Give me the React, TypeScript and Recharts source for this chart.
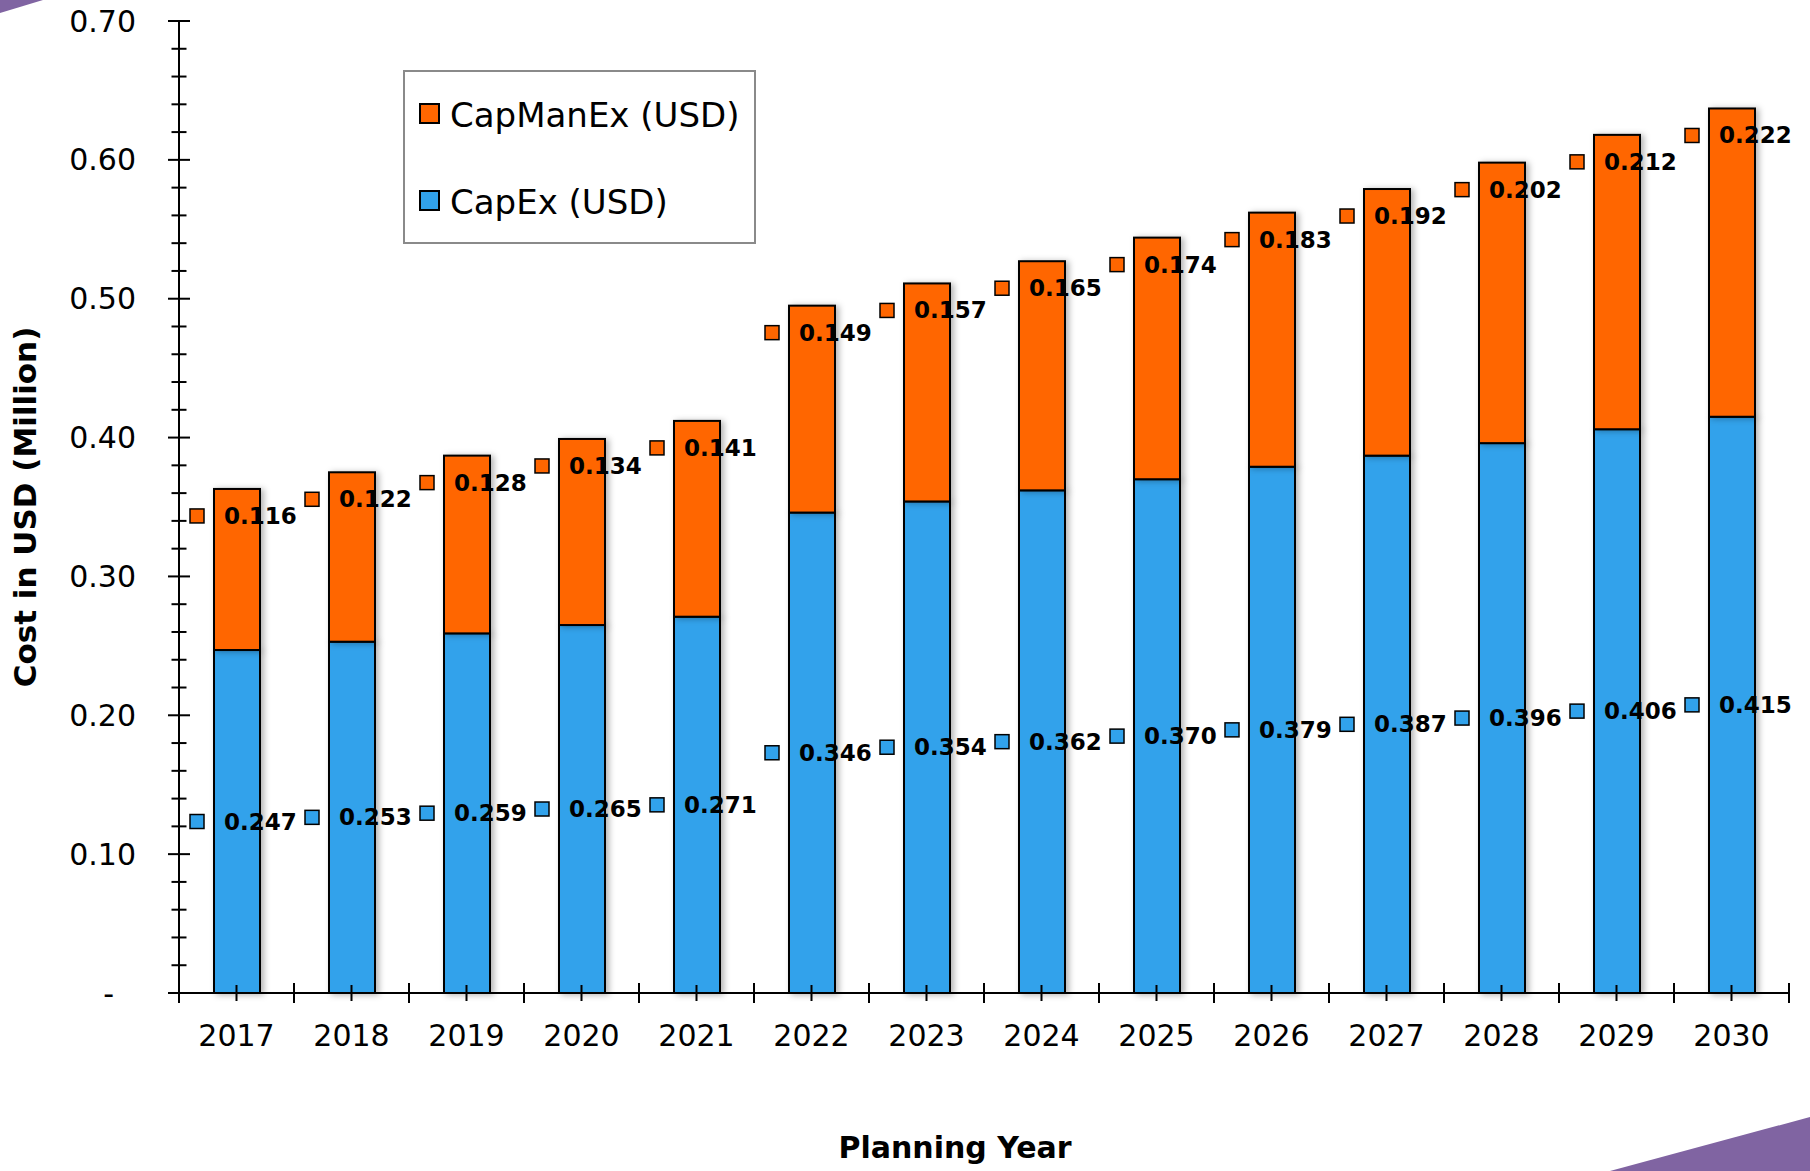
import React from 'react';
import { ComposedChart, Bar, XAxis, YAxis, Legend, LabelList } from 'recharts';

const years = ['2017', '2018', '2019', '2020', '2021', '2022', '2023', '2024', '2025', '2026', '2027', '2028', '2029', '2030'];
const capex = [0.247, 0.253, 0.259, 0.265, 0.271, 0.346, 0.354, 0.362, 0.370, 0.379, 0.387, 0.396, 0.406, 0.415];
const capmanex = [0.116, 0.122, 0.128, 0.134, 0.141, 0.149, 0.157, 0.165, 0.174, 0.183, 0.192, 0.202, 0.212, 0.222];
const yTicks = [0, 0.02, 0.04, 0.06, 0.08, 0.1, 0.12, 0.14, 0.16, 0.18, 0.2, 0.22, 0.24, 0.26, 0.28, 0.3, 0.32, 0.34, 0.36, 0.38, 0.4, 0.42, 0.44, 0.46, 0.48, 0.5, 0.52, 0.54, 0.56, 0.58, 0.6, 0.62, 0.64, 0.66, 0.68, 0.7];

const data = years.map((y, i) => ({ year: y, capex: capex[i], capmanex: capmanex[i] }));

const BLUE = '#31A2EB';
const ORANGE = '#FF6600';
const PURPLE = '#8064A2';
const FONT = '"DejaVu Sans", sans-serif';

const YTick = (props: any) => {
  const { x, y, payload } = props;
  const v = payload.value;
  const major = Math.abs(v * 10 - Math.round(v * 10)) < 1e-6;
  const len = major ? 11 : 7.5;
  return (
    <g>
      <line x1={x - len} x2={x + len} y1={y} y2={y} stroke="#000" strokeWidth={2} />
      {major && (
        v === 0 ? (
          <text x={x - 65} y={y} textAnchor="end" dominantBaseline="central" fontFamily={FONT} fontSize={30} fill="#000">-</text>
        ) : (
          <text x={x - 43} y={y} textAnchor="end" dominantBaseline="central" fontFamily={FONT} fontSize={30} fill="#000">{v.toFixed(2)}</text>
        )
      )}
    </g>
  );
};

const XTick = (props: any) => {
  const { x, y, payload, index, visibleTicksCount } = props;
  const half = typeof payload.offset === 'number' && payload.offset > 0 ? payload.offset : 57.5;
  const count = visibleTicksCount ?? years.length;
  return (
    <g>
      <line x1={x} x2={x} y1={y - 8} y2={y + 8} stroke="#000" strokeWidth={2} />
      <line x1={x - half} x2={x - half} y1={y - 10} y2={y + 10} stroke="#000" strokeWidth={2} />
      {index === count - 1 && <line x1={x + half} x2={x + half} y1={y - 10} y2={y + 10} stroke="#000" strokeWidth={2} />}
      <text x={x} y={y + 42} textAnchor="middle" dominantBaseline="central" fontFamily={FONT} fontSize={30} fill="#000">{payload.value}</text>
    </g>
  );
};

const makeLabel = (color: string, mode: 'center' | 'top') => (props: any) => {
  const vb = props.viewBox || {};
  const x = props.x ?? vb.x;
  const y = props.y ?? vb.y;
  const w = props.width ?? vb.width;
  const h = props.height ?? vb.height;
  const value = props.value;
  if (x == null || y == null) return null;
  const cx = x + w / 2;
  const ly = mode === 'center' ? y + h / 2 : y + 27;
  return (
    <g>
      <rect x={cx - 47} y={ly - 7} width={14} height={14} fill={color} stroke="#000" strokeWidth={1.5} />
      <text x={cx - 13} y={ly} dominantBaseline="central" fontFamily={FONT} fontWeight="bold" fontSize={23} fill="#000">{Number(value).toFixed(3)}</text>
    </g>
  );
};

const BarShape = (props: any) => {
  const { x, y, width, height, fill } = props;
  return <rect x={x} y={y} width={width} height={height} fill={fill} stroke="#000" strokeWidth={2} filter="url(#barShadow)" />;
};

const LegendBox = () => (
  <div style={{ position: 'relative', width: 353, height: 174, border: '2px solid #8a8a8a', boxSizing: 'border-box', background: '#fff' }}>
    {[{ name: 'CapManEx (USD)', color: ORANGE, cy: 43 }, { name: 'CapEx (USD)', color: BLUE, cy: 130 }].map((it) => (
      <div key={it.name}>
        <div style={{ position: 'absolute', left: 14, top: it.cy - 12, width: 21, height: 21, background: it.color, border: '2px solid #000', boxSizing: 'border-box' }} />
        <div style={{ position: 'absolute', left: 45, top: it.cy - 22, height: 44, lineHeight: '44px', fontFamily: FONT, fontSize: 34, color: '#000', whiteSpace: 'nowrap' }}>{it.name}</div>
      </div>
    ))}
  </div>
);

export default function App() {
  return (
    <div style={{ position: 'absolute', left: 0, top: 0, width: 1810, height: 1171, background: '#fff', overflow: 'hidden' }}>
      <svg width={1810} height={1171} style={{ position: 'absolute', left: 0, top: 0 }}>
        <defs>
          <filter id="barShadow" x="-30%" y="-10%" width="160%" height="120%">
            <feDropShadow dx={3} dy={1} stdDeviation={3} floodColor="#000" floodOpacity={0.3} />
          </filter>
        </defs>
        <polygon points="0,0 43,0 0,13" fill={PURPLE} />
        <polygon points="1610,1171 1810,1117 1810,1171" fill={PURPLE} />
      </svg>
      <div style={{ position: 'absolute', left: 0, top: 0 }}>
        <ComposedChart width={1810} height={1171} data={data} margin={{ top: 21, right: 21, bottom: 58, left: 0 }} barSize={46}>
          <XAxis
            dataKey="year"
            interval={0}
            tickLine={false}
            tickSize={0}
            tickMargin={0}
            height={120}
            axisLine={{ stroke: '#000', strokeWidth: 2 }}
            tick={<XTick />}
            label={{
              content: (p: any) => {
                const vb = p.viewBox;
                return (
                  <text x={vb.x + vb.width / 2 - 29} y={1147} textAnchor="middle" dominantBaseline="central" fontFamily={FONT} fontWeight="bold" fontSize={30} fill="#000">Planning Year</text>
                );
              },
            }}
          />
          <YAxis
            type="number"
            domain={[0, 0.7]}
            ticks={yTicks}
            interval={0}
            width={179}
            tickLine={false}
            tickSize={0}
            tickMargin={0}
            axisLine={{ stroke: '#000', strokeWidth: 2 }}
            tick={<YTick />}
            label={{
              content: (p: any) => {
                const vb = p.viewBox;
                const cx = vb.x + 25;
                const cy = vb.y + vb.height / 2;
                return (
                  <text x={cx} y={cy} transform={`rotate(-90 ${cx} ${cy})`} textAnchor="middle" dominantBaseline="central" fontFamily={FONT} fontWeight="bold" fontSize={31} fill="#000">Cost in USD (Million)</text>
                );
              },
            }}
          />
          <Legend
            layout="vertical"
            align="center"
            verticalAlign="middle"
            content={() => <LegendBox />}
            wrapperStyle={{ position: 'absolute', left: 403, top: 70, width: 353, height: 174 }}
          />
          <Bar dataKey="capex" name="CapEx (USD)" stackId="a" fill={BLUE} isAnimationActive={false} shape={<BarShape />}>
            <LabelList dataKey="capex" content={makeLabel(BLUE, 'center')} />
          </Bar>
          <Bar dataKey="capmanex" name="CapManEx (USD)" stackId="a" fill={ORANGE} isAnimationActive={false} shape={<BarShape />}>
            <LabelList dataKey="capmanex" content={makeLabel(ORANGE, 'top')} />
          </Bar>
        </ComposedChart>
      </div>
    </div>
  );
}
